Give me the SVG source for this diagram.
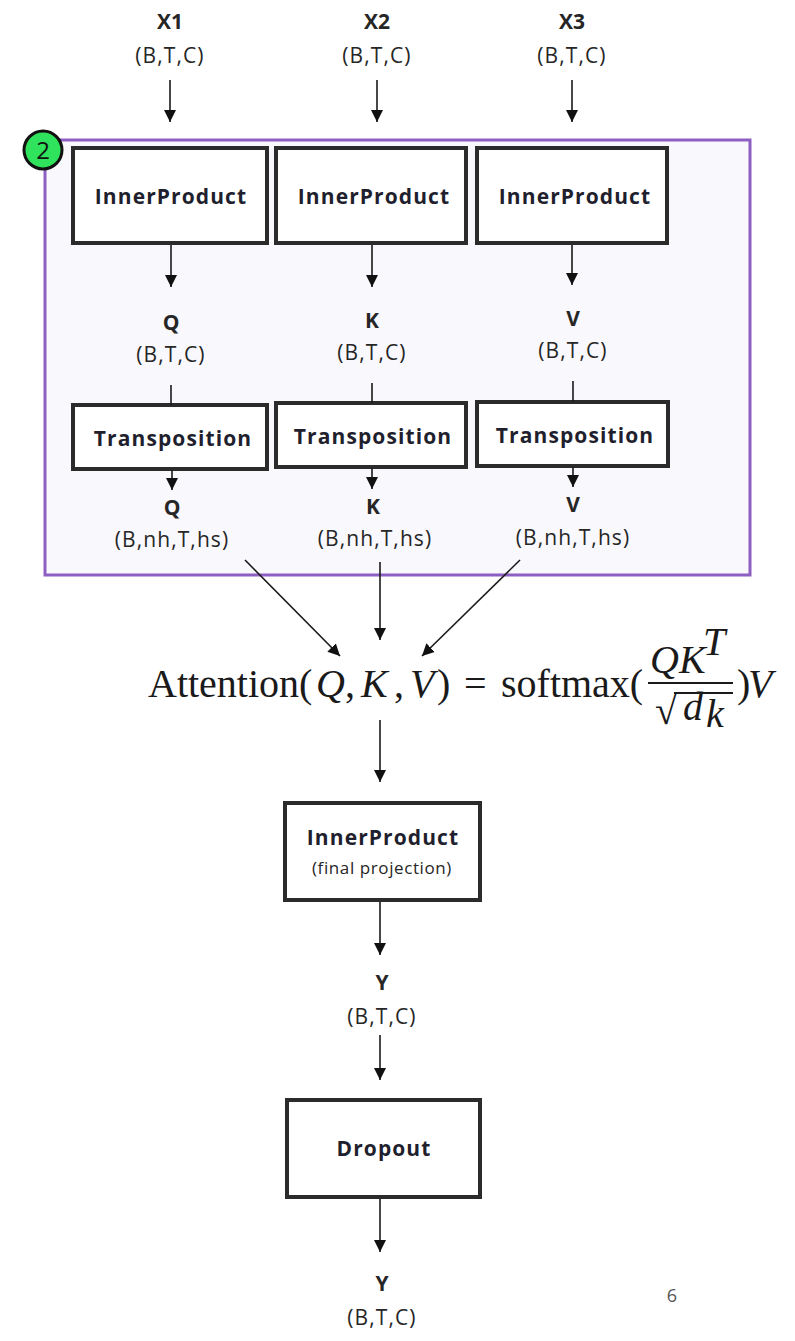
<svg xmlns="http://www.w3.org/2000/svg" width="795" height="1341" viewBox="0 0 795 1341">
  <style>
    .lbl { font-family: "Open Sans", "Liberation Sans", sans-serif; fill: #262626; text-anchor: middle; }
    .b { font-weight: bold; font-size: 21px; }
    .r { font-size: 21px; letter-spacing: 1.1px; }
    .box { fill: #ffffff; stroke: #2b2b2b; stroke-width: 4; }
    .boxtxt { font-family: "Open Sans", "Liberation Sans", sans-serif; font-weight: bold; font-size: 21px; letter-spacing: 1.1px; fill: #1f1f2e; text-anchor: middle; }
    .con { stroke: #1a1a1a; stroke-width: 1.6; fill: none; }
    .math { font-family: "Liberation Serif", "DejaVu Serif", serif; fill: #1a1a1a; font-size: 40px; }
    .it { font-style: italic; }
  </style>
  <defs>
    <marker id="arrow" viewBox="0 0 12 12" refX="12" refY="6" markerWidth="12" markerHeight="13" markerUnits="userSpaceOnUse" orient="auto">
      <path d="M0,0 L12,6 L0,12 z" fill="#111"/>
    </marker>
  </defs>

  <rect width="795" height="1341" fill="#ffffff"/>

  <!-- multi-head projection frame -->
  <g id="frame">
    <rect x="45" y="140" width="705" height="435" fill="#f9f8fd" stroke="#8d5fc2" stroke-width="3"/>
    <circle cx="43" cy="150" r="19" fill="#2fe35c" stroke="#111" stroke-width="3"/>
    <text x="43" y="159" font-family="Open Sans, Liberation Sans, sans-serif" font-size="24" fill="#111" text-anchor="middle">2</text>
  </g>

  <!-- inputs -->
  <g id="x1"><text class="lbl b" x="170" y="29">X1</text><text class="lbl r" x="170" y="63">(B,T,C)</text></g>
  <g id="x2"><text class="lbl b" x="377" y="29">X2</text><text class="lbl r" x="377" y="63">(B,T,C)</text></g>
  <g id="x3"><text class="lbl b" x="572" y="29">X3</text><text class="lbl r" x="572" y="63">(B,T,C)</text></g>

  <!-- projections -->
  <g id="ip1"><rect class="box" x="73" y="148" width="194" height="95"/><text class="boxtxt" x="171" y="204">InnerProduct</text></g>
  <g id="ip2"><rect class="box" x="276" y="148" width="190" height="95"/><text class="boxtxt" x="374" y="204">InnerProduct</text></g>
  <g id="ip3"><rect class="box" x="477" y="148" width="190" height="95"/><text class="boxtxt" x="575" y="204">InnerProduct</text></g>

  <g id="q"><text class="lbl b" x="171" y="330">Q</text><text class="lbl r" x="171" y="362">(B,T,C)</text></g>
  <g id="k"><text class="lbl b" x="372" y="328">K</text><text class="lbl r" x="372" y="360">(B,T,C)</text></g>
  <g id="v"><text class="lbl b" x="573" y="326">V</text><text class="lbl r" x="573" y="358">(B,T,C)</text></g>

  <g id="tr1"><rect class="box" x="73" y="405" width="194" height="64"/><text class="boxtxt" x="173" y="446">Transposition</text></g>
  <g id="tr2"><rect class="box" x="276" y="403" width="190" height="64"/><text class="boxtxt" x="373" y="444">Transposition</text></g>
  <g id="tr3"><rect class="box" x="477" y="402" width="191" height="64"/><text class="boxtxt" x="575" y="443">Transposition</text></g>

  <g id="qh"><text class="lbl b" x="172" y="515">Q</text><text class="lbl r" x="172" y="547">(B,nh,T,hs)</text></g>
  <g id="kh"><text class="lbl b" x="373" y="514">K</text><text class="lbl r" x="375" y="546">(B,nh,T,hs)</text></g>
  <g id="vh"><text class="lbl b" x="573" y="512">V</text><text class="lbl r" x="573" y="545">(B,nh,T,hs)</text></g>

  <!-- scaled dot-product attention -->
  <g id="attention">
    <text class="math" y="697"><tspan x="148">Attention(</tspan><tspan class="it" x="316">Q</tspan><tspan x="345">,</tspan><tspan class="it" x="361">K</tspan><tspan x="394">,</tspan><tspan class="it" x="410">V</tspan><tspan x="437">)</tspan><tspan x="464">=</tspan><tspan x="501">softmax(</tspan></text>
    <text class="math it" x="650" y="673">QK</text>
    <text class="math it" x="703" y="655" font-size="23">T</text>
    <line x1="648" y1="683" x2="733" y2="683" stroke="#1a1a1a" stroke-width="2"/>
    <text class="math" x="655" y="724">√</text>
    <line x1="674" y1="693" x2="733" y2="693" stroke="#1a1a1a" stroke-width="1.8"/>
    <text class="math it" x="683" y="720">d</text>
    <text class="math it" x="706" y="727" font-size="24">k</text>
    <text class="math" x="737" y="697">)</text>
    <text class="math it" x="748" y="697">V</text>
  </g>

  <g id="proj"><rect class="box" x="285" y="803" width="195" height="97" stroke-width="5"/><text class="boxtxt" x="383" y="845">InnerProduct</text><text class="lbl" x="382" y="874" font-size="17" letter-spacing="0.6">(final projection)</text></g>

  <g id="y1"><text class="lbl b" x="382" y="990">Y</text><text class="lbl r" x="382" y="1024">(B,T,C)</text></g>

  <g id="dropout"><rect class="box" x="287" y="1100" width="193" height="97" stroke-width="5"/><text class="boxtxt" x="384" y="1156">Dropout</text></g>

  <g id="y2"><text class="lbl b" x="382" y="1291">Y</text><text class="lbl r" x="382" y="1325">(B,T,C)</text></g>

  <text id="page" x="672" y="1302" font-family="Open Sans, Liberation Sans, sans-serif" font-size="18" fill="#555" text-anchor="middle">6</text>

  <!-- connectors -->
  <g id="connectors">
    <line class="con" x1="170" y1="80" x2="170" y2="122" marker-end="url(#arrow)"/>
    <line class="con" x1="377" y1="80" x2="377" y2="122" marker-end="url(#arrow)"/>
    <line class="con" x1="572" y1="80" x2="572" y2="122" marker-end="url(#arrow)"/>

    <line class="con" x1="171" y1="245" x2="171" y2="287" marker-end="url(#arrow)"/>
    <line class="con" x1="372" y1="245" x2="372" y2="287" marker-end="url(#arrow)"/>
    <line class="con" x1="572" y1="245" x2="572" y2="285" marker-end="url(#arrow)"/>

    <line class="con" x1="171" y1="385" x2="171" y2="405"/>
    <line class="con" x1="372" y1="383" x2="372" y2="403"/>
    <line class="con" x1="573" y1="381" x2="573" y2="402"/>

    <line class="con" x1="172" y1="470" x2="172" y2="490" marker-end="url(#arrow)"/>
    <line class="con" x1="372" y1="468" x2="372" y2="489" marker-end="url(#arrow)"/>
    <line class="con" x1="573" y1="467" x2="573" y2="487" marker-end="url(#arrow)"/>

    <line class="con" x1="245" y1="560" x2="340" y2="656" marker-end="url(#arrow)"/>
    <line class="con" x1="380" y1="562" x2="380" y2="640" marker-end="url(#arrow)"/>
    <line class="con" x1="520" y1="560" x2="422" y2="656" marker-end="url(#arrow)"/>

    <line class="con" x1="380" y1="720" x2="380" y2="782" marker-end="url(#arrow)"/>
    <line class="con" x1="380" y1="902" x2="380" y2="955" marker-end="url(#arrow)"/>
    <line class="con" x1="380" y1="1035" x2="380" y2="1080" marker-end="url(#arrow)"/>
    <line class="con" x1="380" y1="1199" x2="380" y2="1252" marker-end="url(#arrow)"/>
  </g>
</svg>
